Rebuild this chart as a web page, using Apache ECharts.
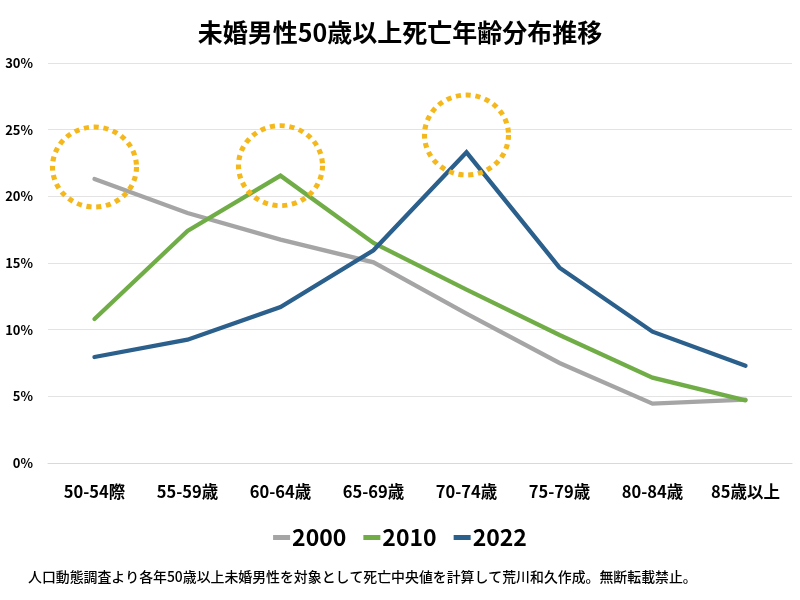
<!DOCTYPE html>
<html>
<head>
<meta charset="utf-8">
<script src="https://cdn.jsdelivr.net/npm/echarts@6/dist/echarts.min.js"></script>
<style>
html,body{margin:0;padding:0;background:#fff;}
#chart{width:800px;height:600px;}
</style>
</head>
<body>
<div id="chart"></div>
<script>
var categories = ['50-54際', '55-59歳', '60-64歳', '65-69歳', '70-74歳', '75-79歳', '80-84歳', '85歳以上'];
var values2000 = [21.3, 18.75, 16.75, 15.05, 11.2, 7.5, 4.45, 4.75];
var values2010 = [10.8, 17.4, 21.55, 16.5, 13.0, 9.6, 6.4, 4.7];
var values2022 = [7.95, 9.25, 11.7, 15.95, 23.3, 14.65, 9.85, 7.3];
var seriesNames = ['2000', '2010', '2022'];
var yTicks = [0, 5, 10, 15, 20, 25, 30];
// highlight circles (annotation positions in data coords)
var circleCats = ['50-54際', '60-64歳', '70-74歳'];
var circleVals = [22.2, 22.3, 24.6];
var titleText = '未婚男性50歳以上死亡年齢分布推移';
var noteText = '人口動態調査より各年50歳以上未婚男性を対象として死亡中央値を計算して荒川和久作成。無断転載禁止。';

var FONT = '"Noto Sans CJK JP", "Noto Sans", sans-serif';
var colors = ['#A5A5A5', '#70AD47', '#2B5F8C'];
var allValues = [values2000, values2010, values2022];

var chart = echarts.init(document.getElementById('chart'), null, {renderer: 'canvas'});

var series = seriesNames.map(function (name, i) {
  return {
    name: name,
    type: 'line',
    data: allValues[i],
    symbol: 'none',
    smooth: false,
    lineStyle: {width: 4.3, color: colors[i], cap: 'round', join: 'miter'},
    itemStyle: {color: colors[i]},
    z: 2 + i
  };
});

series.push({
  name: 'circles',
  type: 'line',
  data: [],
  silent: true,
  markPoint: {
    symbol: 'circle',
    symbolSize: [84, 80],
    silent: true,
    label: {show: false},
    itemStyle: {
      color: 'rgba(0,0,0,0)',
      borderColor: '#F4B81C',
      borderWidth: 5,
      borderType: [5, 4.6],
      borderCap: 'butt'
    },
    data: circleCats.map(function (c, i) {
      return {coord: [c, circleVals[i]]};
    })
  },
  z: 10
});

var option = {
  backgroundColor: '#ffffff',
  animation: false,
  title: {
    text: titleText,
    left: 'center',
    top: 15,
    textStyle: {fontFamily: FONT, fontSize: 25, fontWeight: 'bold', color: '#000'}
  },
  legend: {
    data: seriesNames,
    left: 'center',
    top: 521,
    icon: 'rect',
    itemWidth: 17,
    itemHeight: 5,
    itemGap: 17,
    textStyle: {fontFamily: FONT, fontSize: 23, fontWeight: 'bold', color: '#000', padding: [0, 0, 0, -3]}
  },
  grid: {left: 48, right: 8, top: 63, height: 400, containLabel: false},
  xAxis: {
    type: 'category',
    data: categories,
    boundaryGap: true,
    axisLine: {show: true, lineStyle: {color: '#D9D9D9', width: 1}},
    axisTick: {show: false},
    axisLabel: {fontFamily: FONT, fontSize: 16.5, fontWeight: 'bold', color: '#000', margin: 20, interval: 0}
  },
  yAxis: {
    type: 'value',
    min: yTicks[0],
    max: yTicks[yTicks.length - 1],
    interval: 5,
    axisLine: {show: false},
    axisTick: {show: false},
    splitLine: {lineStyle: {color: '#E3E3E3', width: 1}},
    axisLabel: {fontFamily: FONT, fontSize: 13, fontWeight: 'bold', color: '#000', margin: 15,
      formatter: function (v) { return v + '%'; }}
  },
  graphic: [{
    type: 'text',
    left: 28,
    top: 570,
    style: {text: noteText, font: '500 13.9px ' + FONT, fill: '#000'}
  }],
  series: series
};
chart.setOption(option);
</script>
</body>
</html>
